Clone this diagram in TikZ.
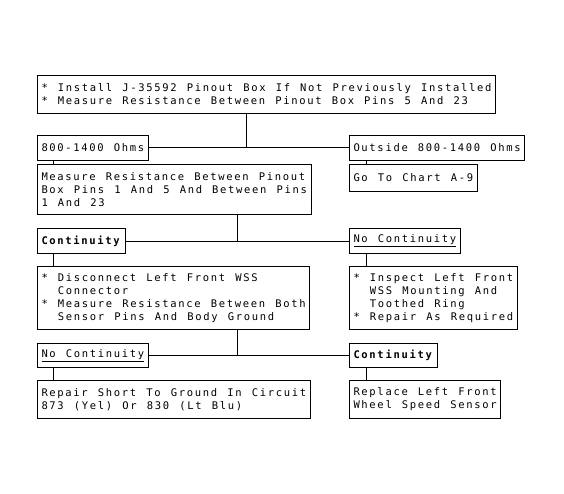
\documentclass[tikz,border=0pt]{standalone}
\usepackage{fontspec}
\newfontfamily\chartfont[LetterSpace=16,WordSpace=1.266]{DejaVu Sans Mono}

\begin{document}
\begin{tikzpicture}[x=1pt,y=1pt,yscale=-1,xscale=1,line width=1pt,
  chartbox/.style={draw,anchor=north west,inner xsep=4pt,inner ysep=0pt,align=left,
    font=\chartfont\fontsize{10.5}{13}\selectfont},
  flowline/.style={draw,line width=1pt}]
\useasboundingbox (0,0) rectangle (564,494);

%Shape: step boxes, left column
\node [chartbox,minimum height=38pt] (install) at (37,75) {{*} Install J-35592 Pinout Box If Not Previously Installed\\{*} Measure Resistance Between Pinout Box Pins 5 And 23};
\node [chartbox,minimum height=25pt] (ohms) at (37,135) {800-1400 Ohms};
\node [chartbox,minimum height=50pt] (measure) at (37,164) {Measure Resistance Between Pinout\\Box Pins 1 And 5 And Between Pins\\1 And 23};
\node [chartbox,minimum height=25pt] (contA) at (37,228) {\textbf{Continuity}};
\node [chartbox,minimum height=63pt] (disconnect) at (37,266) {{*} Disconnect Left Front WSS\\\hphantom{*}~Connector\\{*} Measure Resistance Between Both\\\hphantom{*}~Sensor Pins And Body Ground};
\node [chartbox,minimum height=24pt] (nocontB) at (37,343) {\underline{No Continuity}};
\node [chartbox,minimum height=38pt] (repair) at (37,380) {Repair Short To Ground In Circuit\\873 (Yel) Or 830 (Lt Blu)};

%Shape: step boxes, right column
\node [chartbox,minimum height=25pt] (outside) at (349,135) {Outside 800-1400 Ohms};
\node [chartbox,minimum height=27pt] (goto) at (349,164) {Go To Chart A-9};
\node [chartbox,minimum height=25pt] (nocontA) at (349,228) {\underline{No Continuity}};
\node [chartbox,minimum height=63pt] (inspect) at (349,266) {{*} Inspect Left Front\\\hphantom{*}~WSS Mounting And\\\hphantom{*}~Toothed Ring\\{*} Repair As Required};
\node [chartbox,minimum height=24pt] (contB) at (349,343) {\textbf{Continuity}};
\node [chartbox,minimum height=38pt] (replace) at (349,380) {Replace Left Front\\Wheel Speed Sensor};

%Straight Lines: drop points
\coordinate (lx) at (53,0);
\coordinate (rx) at (366,0);
\coordinate (jA) at (246,0);
\coordinate (jB) at (237,0);

%Straight Lines
\draw [flowline] (ohms.east) -- (outside.west);
\draw [flowline] (install.south -| jA) -- (ohms.east -| jA);
\draw [flowline] (ohms.south -| lx) -- (measure.north -| lx);
\draw [flowline] (outside.south -| rx) -- (goto.north -| rx);
%Straight Lines
\draw [flowline] (contA.east) -- (nocontA.west);
\draw [flowline] (measure.south -| jB) -- (contA.east -| jB);
\draw [flowline] (contA.south -| lx) -- (disconnect.north -| lx);
\draw [flowline] (nocontA.south -| rx) -- (inspect.north -| rx);
%Straight Lines
\draw [flowline] (nocontB.east) -- (contB.west);
\draw [flowline] (disconnect.south -| jB) -- (nocontB.east -| jB);
\draw [flowline] (nocontB.south -| lx) -- (repair.north -| lx);
\draw [flowline] (contB.south -| rx) -- (replace.north -| rx);

\end{tikzpicture}
\end{document}
